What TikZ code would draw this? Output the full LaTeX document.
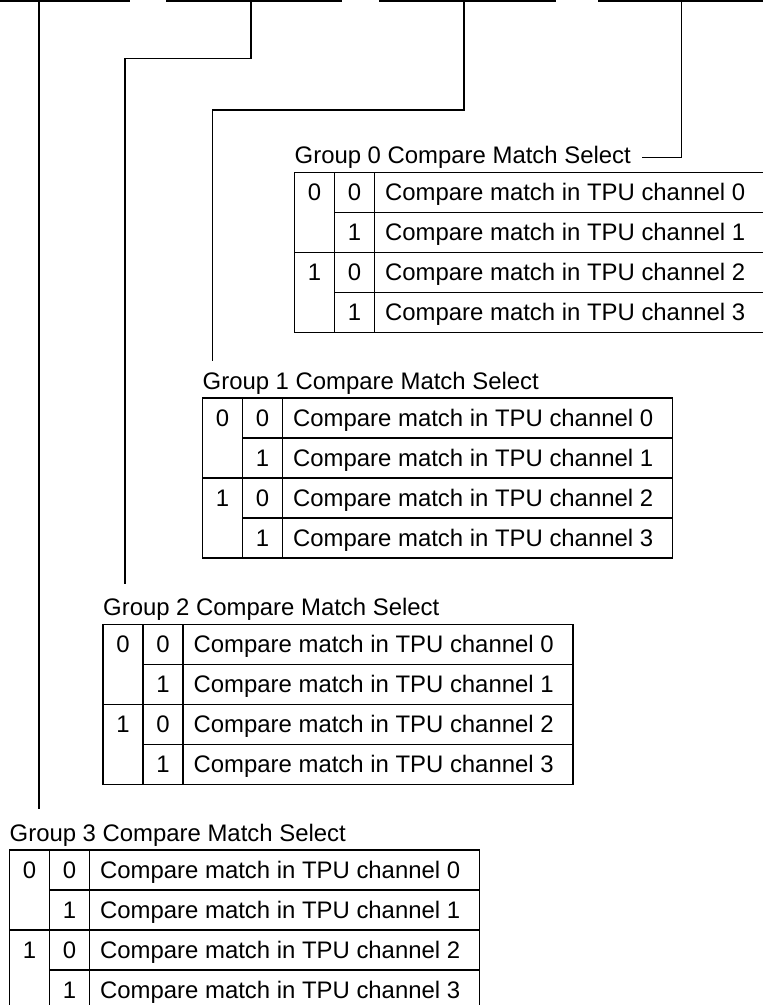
\documentclass[tikz,border=0pt]{standalone}
\usepackage{fontspec}
\setmainfont{Liberation Sans}
\newcommand\fsz{\fontsize{23.9}{28}\selectfont}
\newcommand\gtab[3]{%
  \begin{scope}[shift={(#2,#3)}]
    \node[ttl] (t#1) at (0,-8.5) {Group #1 Compare Match Select};
    \draw[tbl] (0,0) rectangle (470,160);
    \draw[tbl] (40,0) -- (40,160) (80,0) -- (80,160)
               (0,80) -- (470,80) (40,40) -- (470,40) (40,120) -- (470,120);
    \node[cell] (g#1a0) at (20,28.5) {0};
    \node[cell] (g#1a1) at (20,108.5) {1};
    \node[cell] (g#1b0) at (60,28.5) {0};
    \node[cell] (g#1b1) at (60,68.5) {1};
    \node[cell] (g#1b2) at (60,108.5) {0};
    \node[cell] (g#1b3) at (60,148.5) {1};
    \node[desc] (g#1c0) at (90.5,28.5) {Compare match in TPU channel 0};
    \node[desc] (g#1c1) at (90.5,68.5) {Compare match in TPU channel 1};
    \node[desc] (g#1c2) at (90.5,108.5) {Compare match in TPU channel 2};
    \node[desc] (g#1c3) at (90.5,148.5) {Compare match in TPU channel 3};
  \end{scope}}
\begin{document}
\begin{tikzpicture}[x=1pt,y=-1pt,
  ttl/.style={font=\fsz, inner sep=0pt, anchor=base west},
  cell/.style={font=\fsz, inner sep=0pt, anchor=base},
  desc/.style={font=\fsz, inner sep=0pt, anchor=base west},
  tbl/.style={line width=1.2pt},
  lead/.style={line width=1.1pt},
  reg/.style={line width=2pt}]
\useasboundingbox (0,0) rectangle (763,1005);
\clip (0,0) rectangle (763,1005);
% register bit boundaries at top
\coordinate (r0a) at (-5,1);   \coordinate (r0b) at (130,1);
\coordinate (r1a) at (166,1);  \coordinate (r1b) at (342,1);
\coordinate (r2a) at (379,1);  \coordinate (r2b) at (556,1);
\coordinate (r3a) at (598,1);  \coordinate (r3b) at (770,1);
\draw[reg] (r0a) -- (r0b) (r1a) -- (r1b) (r2a) -- (r2b) (r3a) -- (r3b);
% tables
\gtab{0}{294.5}{172.3}
\gtab{1}{202.5}{398}
\gtab{2}{103}{624.3}
\gtab{3}{9.5}{850}
% leaders
\coordinate (l0a) at (681.7,1);
\coordinate (l1a) at (464,1);   \coordinate (l1b) at (212.3,110);
\coordinate (l2a) at (251,1);   \coordinate (l2b) at (125,58.7);
\coordinate (l3a) at (39,1);
\draw[lead] (l0a) |- ([xshift=11pt]t0.east);
\draw[lead] (l1a) |- (l1b) -- ([yshift=11pt]l1b |- t1.north);
\draw[lead] (l2a) |- (l2b) -- ([yshift=14pt]l2b |- t2.north);
\draw[lead] (l3a) -- ([yshift=15pt]l3a |- t3.north);
\end{tikzpicture}
\end{document}
